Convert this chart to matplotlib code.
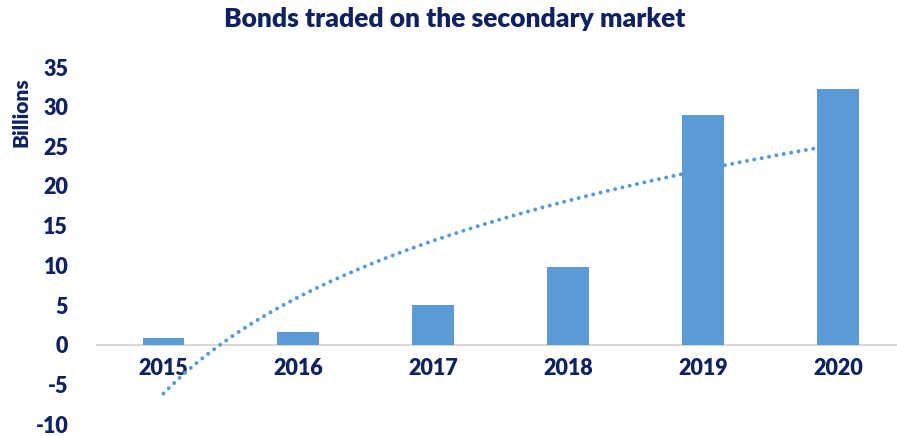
import matplotlib

matplotlib.use("Agg")
import matplotlib.pyplot as plt
import numpy as np

plt.rcParams["font.family"] = ["Lato", "DejaVu Sans"]
plt.rcParams["axes.unicode_minus"] = False

years = ["2015", "2016", "2017", "2018", "2019", "2020"]
traded = [0.85, 1.6, 5.05, 9.75, 28.9, 32.25]

navy = "#0E2161"
blue = "#5B9BD5"
wt = "heavy"

fig = plt.figure(figsize=(8.97, 4.36), dpi=100)
ax = fig.add_axes([96 / 897, 12 / 436, 801 / 897, 357 / 436])

x = np.arange(len(years))
ax.bar(x, traded, width=0.31, color=blue, zorder=3)

# logarithmic trendline, fitted like Excel's: y = a + b*ln(n)
n = x + 1
b, a = np.polyfit(np.log(n), traded, 1)
xs = np.linspace(0, len(years) - 1, 200)
ax.plot(xs, a + b * np.log(xs + 1), color=blue, linewidth=2.9,
        linestyle=(0, (0.01, 1.85)), dash_capstyle="round", zorder=4)

ax.axhline(0, color="#D9D9D9", linewidth=1.5, zorder=2)

ax.set_xlim(-0.5, (897 - 163) / 135)
ax.set_ylim(-10, 35)
ax.set_yticks(range(-10, 36, 5))
ax.set_xticks([])
for xi, yr in zip(x, years):
    ax.text(xi, -3.0, yr, ha="center", va="center", fontsize=15.5,
            fontweight=wt, color=navy)

ax.tick_params(axis="y", length=0, pad=20, labelsize=15.5, labelcolor=navy)
for lab in ax.get_yticklabels():
    lab.set_fontweight(wt)
for s in ax.spines.values():
    s.set_visible(False)

fig.text(21 / 897, 1 - 112 / 436, "Billions", rotation=90, ha="center",
         va="center", fontsize=15, fontweight=wt, color=navy)
fig.text(455 / 897, 1 - 19 / 436, "Bonds traded on the secondary market",
         ha="center", va="center", fontsize=19, fontweight=wt, color=navy)

fig.savefig("out.png", dpi=100)
